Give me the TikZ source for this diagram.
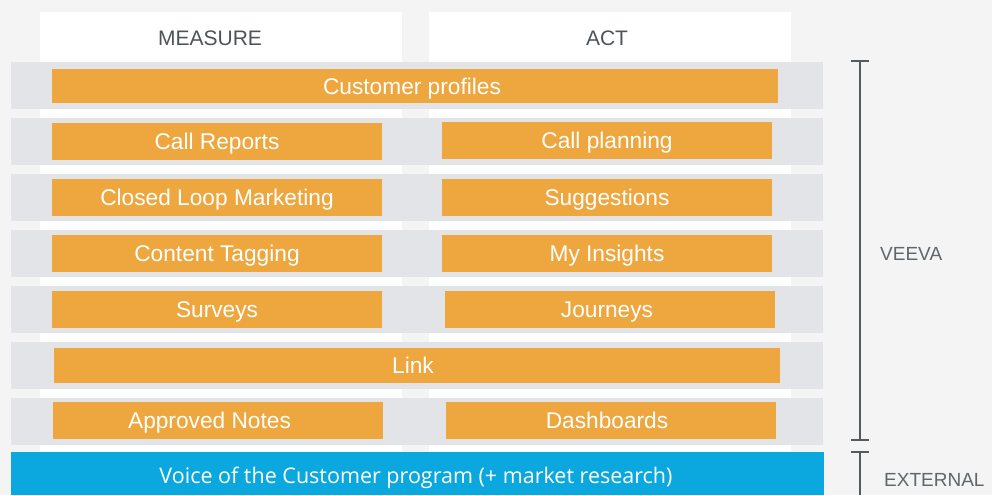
\documentclass[tikz,border=0pt]{standalone}
\usepackage{fontspec}
\setmainfont{Liberation Sans}
\newfontfamily\barfont{Open Sans}
\definecolor{pagebg}{HTML}{F4F4F4}
\definecolor{rowgray}{HTML}{E2E4E8}
\definecolor{orangebox}{HTML}{EEA63F}
\definecolor{bluebar}{HTML}{0BA8E0}
\definecolor{headtext}{HTML}{4D5558}
\definecolor{sidetext}{HTML}{5F676B}
\definecolor{bracket}{HTML}{535B5E}
% nudge a box caption left by half of #1 (caption sits slightly off centre)
\newcommand\nudgeleft[2]{\hspace*{-#1}#2}
\tikzset{
  % caps are centred: text height is the cap height, no depth
  obox/.style={fill=orangebox, draw=none, text=white, inner sep=0pt,
    minimum width=330pt, minimum height=37pt,
    text height=16.2pt, text depth=0pt,
    font=\fontsize{22.7}{25}\selectfont},
  widebox/.style={obox, minimum width=726pt, minimum height=35pt},
  headlabel/.style={text=headtext, inner sep=0pt, text height=15pt, text depth=0pt,
    font=\fontsize{21}{24}\selectfont},
  sidelabel/.style={text=sidetext, inner sep=0pt, text height=13.6pt, text depth=0pt,
    font=\fontsize{19}{22}\selectfont},
  bracketline/.style={draw=bracket, line width=2.8pt}
}
\begin{document}
\begin{tikzpicture}[x=1pt, y=-1pt]
  % page and column backgrounds
  \fill[pagebg] (0,0) rectangle (992,495);
  \useasboundingbox (0,0) rectangle (992,495);
  \fill[white] (40,12) rectangle (402,452);
  \fill[white] (429,12) rectangle (791,452);
  \node[headlabel] (measure) at (210,37.7) {MEASURE};
  \node[headlabel] (act) at (607,37.7) {ACT};

  % gray row bands
  \foreach \y in {62,118,174,230,286,342,398}
    \fill[rowgray] (11,\y) rectangle (823,\y+47);

  % orange capability boxes
  \node[widebox, minimum height=34pt] (profiles) at (415,86) {\nudgeleft{6pt}{Customer profiles}};
  \node[obox] (callrep) at (217,141.5) {Call Reports};
  \node[obox] (callplan) at (607,140.5) {Call planning};
  \node[obox] (clm) at (217,197.5) {Closed Loop Marketing};
  \node[obox] (sugg) at (607,197.5) {Suggestions};
  \node[obox] (tagging) at (217,253.5) {Content Tagging};
  \node[obox] (insights) at (607,253.5) {My Insights};
  \node[obox] (surveys) at (217,309.5) {Surveys};
  \node[obox] (journeys) at (610,309.5) {\nudgeleft{6pt}{Journeys}};
  \node[widebox] (link) at (417,365.5) {\nudgeleft{8pt}{Link}};
  \node[obox] (notes) at (218,420.5) {\nudgeleft{17pt}{Approved Notes}};
  \node[obox] (dash) at (611,420.5) {\nudgeleft{8pt}{Dashboards}};

  % external program bar
  \fill[bluebar] (11,452) rectangle (824,495);
  \node[text=white, inner sep=0pt, text height=15.4pt, text depth=0pt,
        font=\barfont\fontsize{21.5}{24}\selectfont]
        (voc) at (416,475.7) {Voice of the Customer program (+ market research)};

  % side brackets
  \coordinate (vtop) at (860,61);
  \coordinate (vbot) at (860,440);
  \coordinate (etop) at (860,452);
  \coordinate (ebot) at (860,495);
  \draw[bracketline] (vtop) -- (vbot);
  \draw[bracketline] ([xshift=-9pt]vtop) -- ([xshift=9pt]vtop);
  \draw[bracketline] ([xshift=-9pt]vbot) -- ([xshift=9pt]vbot);
  \draw[bracketline] (etop) -- (ebot);
  \draw[bracketline] ([xshift=-9pt]etop) -- ([xshift=9pt]etop);
  \node[sidelabel, anchor=west] (veeva) at (880,253.5) {VEEVA};
  \node[sidelabel, anchor=west] (external) at (884,479.5) {EXTERNAL};
\end{tikzpicture}
\end{document}
